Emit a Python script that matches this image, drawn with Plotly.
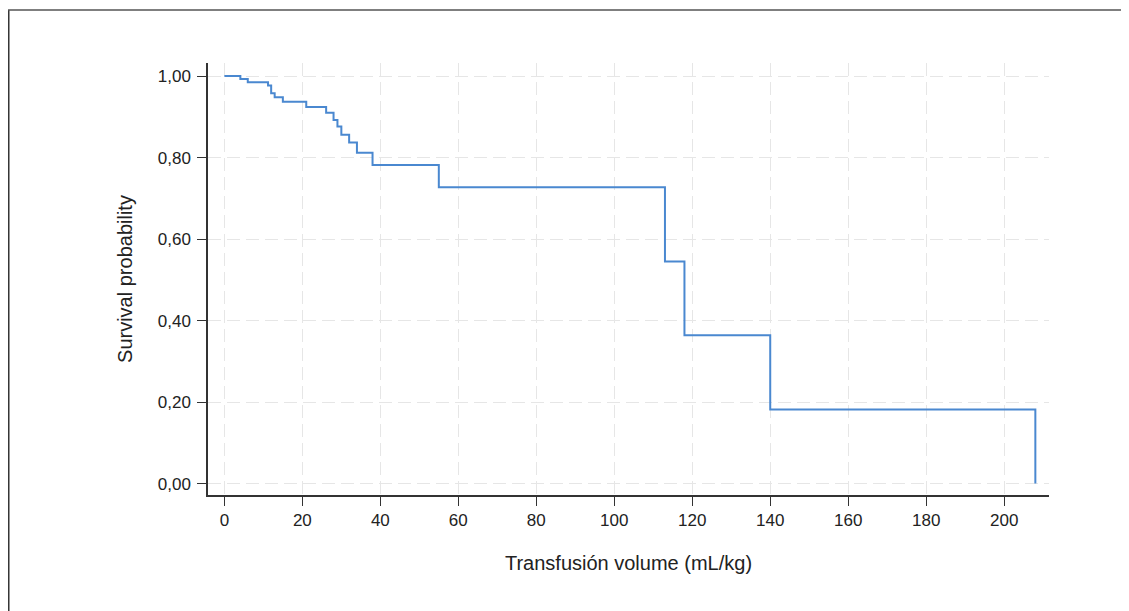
import plotly.graph_objects as go

# Kaplan-Meier style step data
times = [0, 4.1, 6.0, 11.2, 12.0, 12.9, 15.0, 21.0, 26.1, 28.0, 29.0, 30.0,
         32.0, 34.0, 38.0, 55.0, 113.0, 118.0, 140.0, 208.0]
surv = [1.0, 0.993, 0.985, 0.977, 0.958, 0.948, 0.937, 0.924, 0.910, 0.892,
        0.876, 0.856, 0.837, 0.812, 0.782, 0.727, 0.545, 0.364, 0.182, 0.0]

x_ticks = [0, 20, 40, 60, 80, 100, 120, 140, 160, 180, 200]
y_ticks = [0.0, 0.2, 0.4, 0.6, 0.8, 1.0]

x_title = "Transfusión volume (mL/kg)"
y_title = "Survival probability"

FONT = "Liberation Sans, Arial, sans-serif"

fig = go.Figure()
fig.add_trace(go.Scatter(
    x=times, y=surv, mode="lines", line_shape="hv",
    line=dict(color="#4a88d0", width=2), showlegend=False,
    hoverinfo="skip"))

axis_common = dict(
    showline=True, linecolor="#333333", linewidth=1.5,
    ticks="outside", ticklen=9, tickwidth=1.3, tickcolor="#333333",
    showgrid=True, gridcolor="#e6e6e6", gridwidth=1.3, griddash="13px,6px",
    zeroline=False, mirror=False,
    tickfont=dict(family=FONT, size=17, color="#222222"),
)

fig.update_layout(
    width=1129, height=611,
    margin=dict(l=200, r=88, t=55, b=124),
    paper_bgcolor="white", plot_bgcolor="white",
    separators=",.",
    font=dict(family=FONT, color="#222222"),
    xaxis=dict(
        range=[-4.2, 211.5], tickvals=x_ticks,
        title=dict(text=x_title, font=dict(size=20), standoff=27),
        **axis_common),
    yaxis=dict(
        range=[-0.028, 1.032], tickvals=y_ticks, tickformat=".2f",
        ticklabelstandoff=3,
        title=dict(text=y_title, font=dict(size=20), standoff=20),
        **axis_common),
    shapes=[
        dict(type="line", xref="paper", yref="paper",
             x0=-0.2369, x1=-0.2369, y0=-0.3, y1=1.1227,
             line=dict(color="#333333", width=1.5)),
        dict(type="line", xref="paper", yref="paper",
             x0=-0.2378, x1=1.12, y0=1.1227, y1=1.1227,
             line=dict(color="#555555", width=1.5)),
    ],
)

fig.write_html("out.html")
